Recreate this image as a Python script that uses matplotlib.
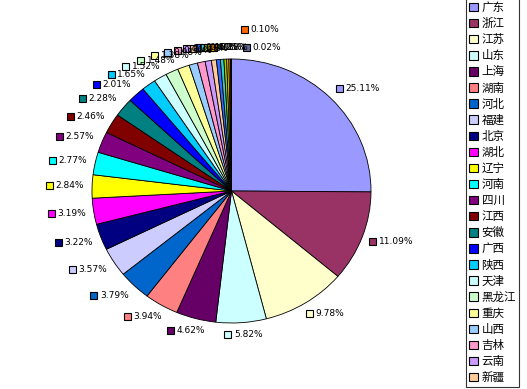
import matplotlib
matplotlib.use("Agg")
import matplotlib.pyplot as plt
import numpy as np
from matplotlib.patches import Rectangle

plt.rcParams['font.family'] = ['Noto Sans CJK SC', 'DejaVu Sans']

provinces = ['广东', '浙江', '江苏', '山东', '上海', '湖南', '河北', '福建', '北京', '湖北',
             '辽宁', '河南', '四川', '江西', '安徽', '广西', '陕西', '天津', '黑龙江', '重庆',
             '山西', '吉林', '云南', '新疆', '内蒙古', '贵州', '甘肃', '海南', '宁夏', '青海', '西藏']
shares = [25.11, 11.09, 9.78, 5.82, 4.62, 3.94, 3.79, 3.57, 3.22, 3.19,
          2.84, 2.77, 2.57, 2.46, 2.28, 2.01, 1.65, 1.52, 1.48, 1.38,
          0.98, 0.90, 0.72, 0.58, 0.46, 0.40, 0.32, 0.25, 0.18, 0.10, 0.02]
colors = ['#9999FF', '#993366', '#FFFFCC', '#CCFFFF', '#660066', '#FF8080', '#0066CC', '#CCCCFF',
          '#000080', '#FF00FF', '#FFFF00', '#00FFFF', '#800080', '#800000', '#008080', '#0000FF',
          '#00CCFF', '#CCFFFF', '#CCFFCC', '#FFFF99', '#99CCFF', '#FF99CC', '#CC99FF', '#FFCC99',
          '#3366FF', '#33CCCC', '#99CC00', '#FFCC00', '#FF9900', '#FF6600', '#666699']
legend_count = 24  # the rest of the legend is cut off

W, H = 527, 389
cx, cy = 231.5, 198.0      # pie centre, pixels from bottom-left
rx, ry = 139.5, 132.0      # the pie is a touch wider than tall
gap = 7.5
# hand nudges (pixels) for the two crowded last labels
nudge = {29: (30, 18), 30: (31, 0)}

fig = plt.figure(figsize=(W / 100, H / 100), dpi=100)
ax = fig.add_axes([0, 0, 1, 1])
wedges, _ = ax.pie(shares, colors=colors, startangle=90, counterclock=False,
                   wedgeprops=dict(edgecolor='black', linewidth=0.6))
ax.set_aspect('auto')
ax.set_xlim(-cx / rx, (W - cx) / rx)
ax.set_ylim(-cy / ry, (H - cy) / ry)
ax.axis('off')

renderer = fig.canvas.get_renderer()
for i, (w, v) in enumerate(zip(wedges, shares)):
    th = np.deg2rad((w.theta1 + w.theta2) / 2)
    c, s = np.cos(th), np.sin(th)
    px, py = cx + (rx + gap) * c, cy + (ry + gap) * s
    t = fig.text(0, 0, f'{v:.2f}%', fontsize=6.5, family='DejaVu Sans',
                 ha='left', va='center', color='black')
    tw = t.get_window_extent(renderer).width
    bw, bh = 10 + tw, 9
    fx, fy = np.clip(1.5 * c, -1, 1), np.clip(1.5 * s, -1, 1)
    bx = px + fx * bw / 2 - bw / 2
    by = py + fy * bh / 2
    dx, dy = nudge.get(i, (0, 0))
    bx += dx
    by += dy
    fig.add_artist(Rectangle(((bx) / W, (by - 3.5) / H), 7 / W, 7 / H,
                             transform=fig.transFigure, facecolor=w.get_facecolor(),
                             edgecolor='black', linewidth=0.8))
    t.set_position(((bx + 9.5) / W, by / H))

leg = fig.legend(wedges[:legend_count], provinces[:legend_count],
                 loc='lower left', bbox_to_anchor=(466 / W, 2 / H),
                 fontsize=8.3, frameon=True, fancybox=False, borderaxespad=0,
                 handlelength=0.75, handleheight=0.75, handletextpad=0.35,
                 labelspacing=0.268, borderpad=0.25)
leg.get_frame().set_edgecolor('black')
leg.get_frame().set_linewidth(0.8)
for h in leg.legend_handles:
    h.set_edgecolor('black')
    h.set_linewidth(0.8)

fig.savefig('out.png', dpi=100, facecolor='white')
